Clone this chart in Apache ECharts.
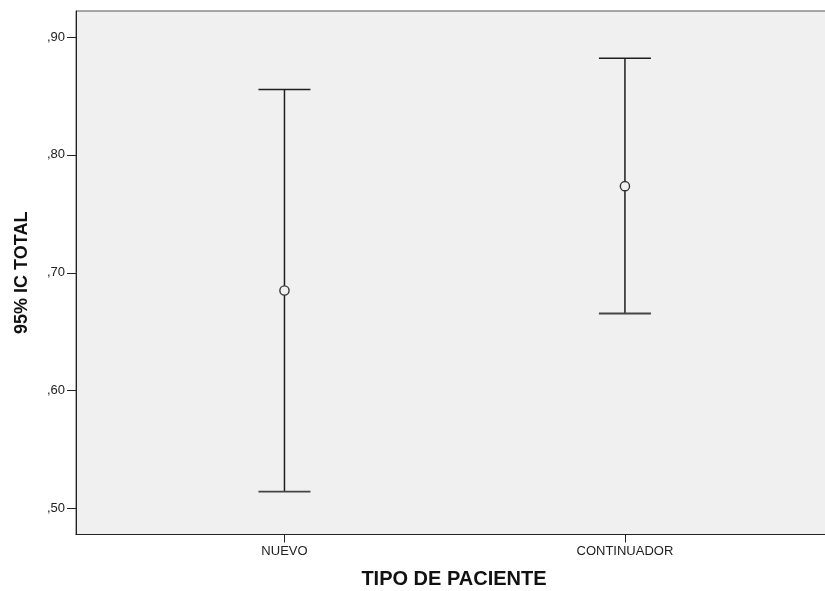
<!DOCTYPE html>
<html>
<head>
<meta charset="utf-8">
<script src="https://cdn.jsdelivr.net/npm/echarts@6/dist/echarts.min.js"></script>
<style>
  html, body { margin: 0; padding: 0; background: #ffffff; }
  #chart { width: 825px; height: 591px; }
</style>
</head>
<body>
<div id="chart"></div>
<script>
// Patient type groups and their 95% confidence intervals for TOTAL
const categories = ['NUEVO', 'CONTINUADOR'];
const means = [0.685, 0.7735];
const lowerBounds = [0.5145, 0.6655];
const upperBounds = [0.8555, 0.882];
const yTicks = [0.5, 0.6, 0.7, 0.8, 0.9];

const positions = categories.map((_, i) => i + 1);
const barData = categories.map((_, i) => [positions[i], means[i], lowerBounds[i], upperBounds[i]]);

const FONT = '"Liberation Sans", Arial, sans-serif';
const INK = '#1e1e1e';

const chart = echarts.init(document.getElementById('chart'), null, { renderer: 'canvas' });

chart.setOption({
  animation: false,
  backgroundColor: '#ffffff',
  grid: {
    left: 76, top: 11, width: 751, height: 523.5,
    outerBoundsMode: 'none',
    containLabel: false,
    show: true, backgroundColor: '#f0f0f0', borderColor: '#555', borderWidth: 1
  },
  xAxis: {
    type: 'value',
    min: 0.3877, max: 2.5935,
    name: 'TIPO DE PACIENTE',
    nameLocation: 'middle',
    nameGap: 35,
    nameTextStyle: { fontFamily: FONT, fontSize: 20, fontWeight: 'bold', color: '#111', padding: [0, 0, 0, 5] },
    splitLine: { show: false },
    axisLine: { show: true, lineStyle: { color: '#222', width: 1 } },
    axisTick: { show: true, length: 8, lineStyle: { color: '#222' }, customValues: positions },
    axisLabel: {
      customValues: positions,
      formatter: v => categories[Math.round(v) - 1] || '',
      fontFamily: FONT, fontSize: 13, color: '#222', margin: 10
    }
  },
  yAxis: {
    type: 'value',
    min: 0.4781, max: 0.922,
    name: '95% IC TOTAL',
    nameLocation: 'middle',
    nameGap: 45,
    nameRotate: 90,
    nameTextStyle: { fontFamily: FONT, fontSize: 18, fontWeight: 'bold', color: '#111' },
    splitLine: { show: false },
    axisLine: { show: true, lineStyle: { color: '#222', width: 1 } },
    axisTick: { show: true, length: 9, lineStyle: { color: '#222' }, customValues: yTicks },
    axisLabel: {
      customValues: yTicks,
      formatter: v => v.toFixed(2).replace('0.', ','),
      fontFamily: FONT, fontSize: 13, color: '#222', margin: 11
    }
  },
  series: [{
    type: 'custom',
    data: barData,
    encode: { x: 0, y: [1, 2, 3] },
    renderItem: (params, api) => {
      const x = api.value(0);
      const m = api.coord([x, api.value(1)]);
      const lo = api.coord([x, api.value(2)]);
      const hi = api.coord([x, api.value(3)]);
      const half = 26;
      const r = 4.6;
      const style = { stroke: INK, lineWidth: 1.5, fill: null };
      return {
        type: 'group',
        children: [
          { type: 'line', shape: { x1: hi[0], y1: hi[1], x2: hi[0], y2: m[1] - r }, style },
          { type: 'line', shape: { x1: m[0], y1: m[1] + r, x2: lo[0], y2: lo[1] }, style },
          { type: 'line', shape: { x1: hi[0] - half, y1: hi[1], x2: hi[0] + half, y2: hi[1] }, style },
          { type: 'line', shape: { x1: lo[0] - half, y1: lo[1], x2: lo[0] + half, y2: lo[1] }, style: { stroke: '#444', lineWidth: 1.8 } },
          { type: 'circle', shape: { cx: m[0], cy: m[1], r: r }, style: { stroke: '#333', lineWidth: 1.4, fill: 'none' } }
        ]
      };
    }
  }]
});
</script>
</body>
</html>
